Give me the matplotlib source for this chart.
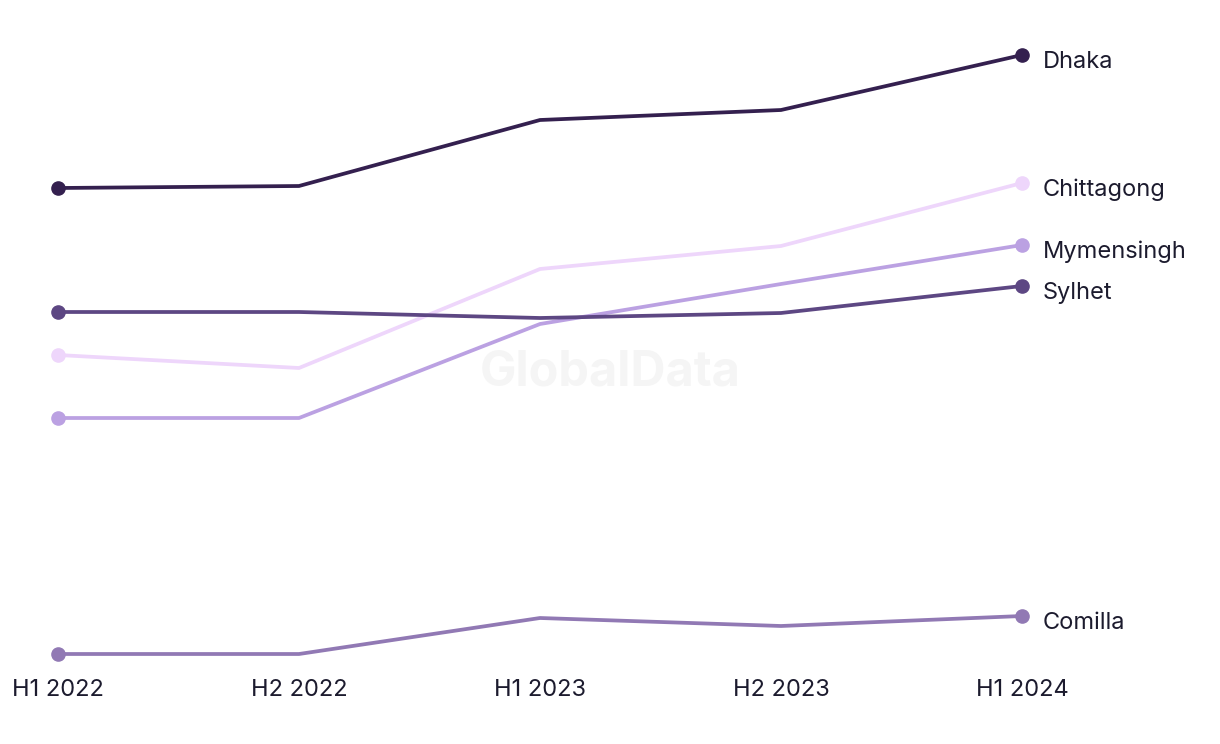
import matplotlib
matplotlib.use("Agg")
import matplotlib.pyplot as plt

periods = ["H1 2022", "H2 2022", "H1 2023", "H2 2023", "H1 2024"]

dhaka = [473, 475, 541, 551, 606]
chittagong = [306, 293, 392, 415, 478]
mymensingh = [243, 243, 337, 377, 416]
sylhet = [349, 349, 343, 348, 375]
comilla = [7, 7, 43, 35, 45]

series = [
    ("Chittagong", chittagong, "#eed6fb"),
    ("Mymensingh", mymensingh, "#bba1e2"),
    ("Comilla", comilla, "#9179b4"),
    ("Sylhet", sylhet, "#5d4783"),
    ("Dhaka", dhaka, "#34204f"),
]

plt.rcParams['font.family'] = ['Inter', 'DejaVu Sans']
text_color = "#1c1b2e"

fig = plt.figure(figsize=(12.2, 7.44), dpi=100)
ax = fig.add_axes([58 / 1220, 83 / 744, (1022 - 58) / 1220, 660 / 744])
ax.set_xlim(0, 4)
ax.set_ylim(0, 660)

fig.text(0.5, 1 - 373 / 744, "GlobalData", ha="center", va="center",
         fontsize=35, fontweight="bold", color="#f5f5f5", zorder=0)

x = list(range(len(periods)))
for name, vals, col in series:
    ax.plot(x, vals, color=col, lw=2.7, solid_capstyle="round", zorder=3, clip_on=False)
    ax.plot([x[0], x[-1]], [vals[0], vals[-1]], "o", color=col, ms=9.5, zorder=4, clip_on=False)
    ax.annotate(name, (x[-1], vals[-1]), xytext=(15, -5), textcoords="offset points",
                va="center", ha="left", fontsize=17, color=text_color)

ax.set_xticks(x)
ax.set_xticklabels(periods, fontsize=17, color=text_color)
ax.tick_params(axis="x", length=0, pad=13)
ax.set_yticks([])
for s in ax.spines.values():
    s.set_visible(False)
ax.patch.set_alpha(0)

fig.savefig("out.png", dpi=100)
